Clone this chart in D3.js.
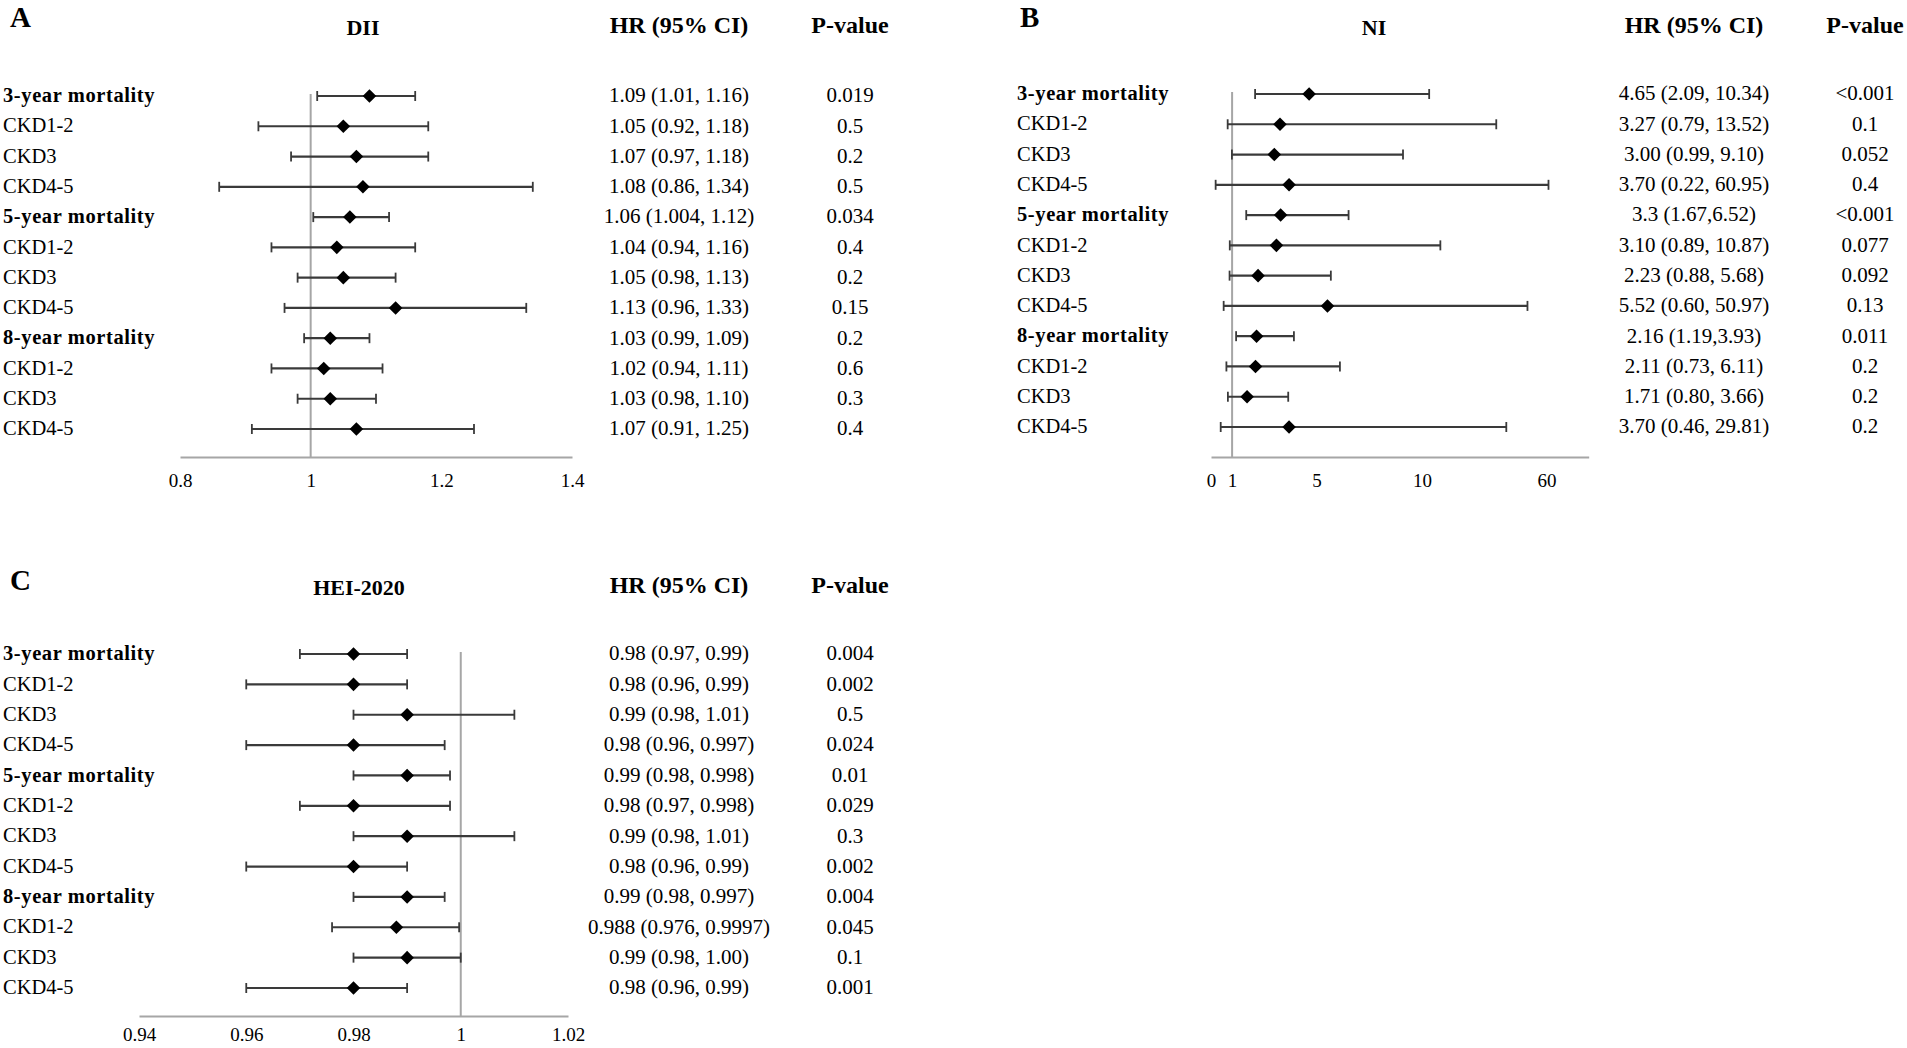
<!DOCTYPE html>
<html>
<head>
<meta charset="utf-8">
<script src="https://cdn.jsdelivr.net/npm/d3@7"></script>
<style>
  body { margin: 0; background: #fff; }
  svg { display: block; font-family: "Liberation Serif", "Times New Roman", serif; }
</style>
</head>
<body>
<svg id="forest" width="1907" height="1048"></svg>
<script>
// rows, same for all three panels
let rowLabels = ["3-year mortality", "CKD1-2", "CKD3", "CKD4-5",
                 "5-year mortality", "CKD1-2", "CKD3", "CKD4-5",
                 "8-year mortality", "CKD1-2", "CKD3", "CKD4-5"];
let boldRows = [true, false, false, false, true, false, false, false, true, false, false, false];

// A: DII
let diiHR = [1.09, 1.05, 1.07, 1.08, 1.06, 1.04, 1.05, 1.13, 1.03, 1.02, 1.03, 1.07];
let diiLo = [1.01, 0.92, 0.97, 0.86, 1.004, 0.94, 0.98, 0.96, 0.99, 0.94, 0.98, 0.91];
let diiHi = [1.16, 1.18, 1.18, 1.34, 1.12, 1.16, 1.13, 1.33, 1.09, 1.11, 1.10, 1.25];
let diiText = ["1.09 (1.01, 1.16)", "1.05 (0.92, 1.18)", "1.07 (0.97, 1.18)", "1.08 (0.86, 1.34)",
               "1.06 (1.004, 1.12)", "1.04 (0.94, 1.16)", "1.05 (0.98, 1.13)", "1.13 (0.96, 1.33)",
               "1.03 (0.99, 1.09)", "1.02 (0.94, 1.11)", "1.03 (0.98, 1.10)", "1.07 (0.91, 1.25)"];
let diiP = ["0.019", "0.5", "0.2", "0.5", "0.034", "0.4", "0.2", "0.15", "0.2", "0.6", "0.3", "0.4"];
let diiTicks = [0.8, 1, 1.2, 1.4];

// B: NI
let niHR = [4.65, 3.27, 3.00, 3.70, 3.3, 3.10, 2.23, 5.52, 2.16, 2.11, 1.71, 3.70];
let niLo = [2.09, 0.79, 0.99, 0.22, 1.67, 0.89, 0.88, 0.60, 1.19, 0.73, 0.80, 0.46];
let niHi = [10.34, 13.52, 9.10, 60.95, 6.52, 10.87, 5.68, 50.97, 3.93, 6.11, 3.66, 29.81];
let niText = ["4.65 (2.09, 10.34)", "3.27 (0.79, 13.52)", "3.00 (0.99, 9.10)", "3.70 (0.22, 60.95)",
              "3.3 (1.67,6.52)", "3.10 (0.89, 10.87)", "2.23 (0.88, 5.68)", "5.52 (0.60, 50.97)",
              "2.16 (1.19,3.93)", "2.11 (0.73, 6.11)", "1.71 (0.80, 3.66)", "3.70 (0.46, 29.81)"];
let niP = ["<0.001", "0.1", "0.052", "0.4", "<0.001", "0.077", "0.092", "0.13", "0.011", "0.2", "0.2", "0.2"];
let niTicks = [0, 1, 5, 10, 60];
// broken axis: linear up to ~14, then squeezed so 60 fits
let niBreaks = [0, 13.6, 30, 51, 61, 75];
let niBreakUnits = [0, 13.6, 14, 15, 16, 17.9];

// C: HEI-2020
let heiHR = [0.98, 0.98, 0.99, 0.98, 0.99, 0.98, 0.99, 0.98, 0.99, 0.988, 0.99, 0.98];
let heiLo = [0.97, 0.96, 0.98, 0.96, 0.98, 0.97, 0.98, 0.96, 0.98, 0.976, 0.98, 0.96];
let heiHi = [0.99, 0.99, 1.01, 0.997, 0.998, 0.998, 1.01, 0.99, 0.997, 0.9997, 1.00, 0.99];
let heiText = ["0.98 (0.97, 0.99)", "0.98 (0.96, 0.99)", "0.99 (0.98, 1.01)", "0.98 (0.96, 0.997)",
               "0.99 (0.98, 0.998)", "0.98 (0.97, 0.998)", "0.99 (0.98, 1.01)", "0.98 (0.96, 0.99)",
               "0.99 (0.98, 0.997)", "0.988 (0.976, 0.9997)", "0.99 (0.98, 1.00)", "0.98 (0.96, 0.99)"];
let heiP = ["0.004", "0.002", "0.5", "0.024", "0.01", "0.029", "0.3", "0.002", "0.004", "0.045", "0.1", "0.001"];
let heiTicks = [0.94, 0.96, 0.98, 1, 1.02];

let svg = d3.select("#forest");
let lineGray = "#a6a6a6";
let barColor = "#3a3a3a";
let diamond = d3.symbol().type(d3.symbolSquare).size(92);

function drawPanel(p) {
    let g = svg.append("g");
    let y = d3.scalePoint().domain(d3.range(rowLabels.length)).range([p.rowTop, p.rowBottom]);
    let rows = d3.range(rowLabels.length);

    // panel letter, title, column headers
    g.append("text").attr("x", p.letterX).attr("y", p.letterY).attr("dy", "0.35em")
        .attr("font-size", 29).attr("font-weight", "bold").text(p.letter);
    g.append("text").attr("x", p.titleX).attr("y", p.headY + 2).attr("dy", "0.35em")
        .attr("text-anchor", "middle").attr("font-size", 22).attr("font-weight", "bold").text(p.title);
    g.append("text").attr("x", p.hrX).attr("y", p.headY).attr("dy", "0.35em")
        .attr("text-anchor", "middle").attr("font-size", 24).attr("font-weight", "bold").text("HR (95% CI)");
    g.append("text").attr("x", p.pX).attr("y", p.headY).attr("dy", "0.35em")
        .attr("text-anchor", "middle").attr("font-size", 24).attr("font-weight", "bold").text("P-value");

    // axis
    let axis = g.append("g")
        .attr("transform", `translate(0,${p.axisY})`)
        .call(d3.axisBottom(p.x).tickValues(p.ticks).tickSize(0).tickSizeOuter(0).tickPadding(p.tickPad).tickFormat(d => d));
    axis.attr("font-family", null).attr("font-size", 19);
    axis.select(".domain").attr("stroke", lineGray).attr("stroke-width", 2);
    axis.selectAll("text").attr("fill", "#000");

    // reference line at HR = 1
    g.append("line")
        .attr("x1", p.x(1)).attr("x2", p.x(1))
        .attr("y1", p.rowTop - 2).attr("y2", p.axisY)
        .attr("stroke", lineGray).attr("stroke-width", 2);

    // CI bars
    g.append("g").selectAll("line").data(rows).join("line")
        .attr("x1", i => p.x(p.lo[i])).attr("x2", i => p.x(p.hi[i]))
        .attr("y1", i => y(i)).attr("y2", i => y(i))
        .attr("stroke", barColor).attr("stroke-width", 2.2);
    let caps = rows.flatMap(i => [{i, v: p.lo[i]}, {i, v: p.hi[i]}]);
    g.append("g").selectAll("line").data(caps).join("line")
        .attr("x1", d => p.x(d.v)).attr("x2", d => p.x(d.v))
        .attr("y1", d => y(d.i) - 5).attr("y2", d => y(d.i) + 5)
        .attr("stroke", barColor).attr("stroke-width", 1.8);

    // point estimates
    g.append("g").selectAll("path").data(rows).join("path")
        .attr("d", diamond)
        .attr("transform", i => `translate(${p.x(p.hr[i])},${y(i)}) rotate(45)`)
        .attr("fill", "#000");

    // left labels + right columns
    g.append("g").selectAll("text").data(rows).join("text")
        .attr("x", p.labelX).attr("y", i => y(i) - 1).attr("dy", "0.35em")
        .attr("font-size", 20.5)
        .attr("font-weight", i => boldRows[i] ? "bold" : null)
        .attr("letter-spacing", i => boldRows[i] ? 0.6 : null)
        .text(i => rowLabels[i]);
    g.append("g").selectAll("text").data(rows).join("text")
        .attr("x", p.hrX).attr("y", i => y(i) - 1).attr("dy", "0.35em")
        .attr("text-anchor", "middle").attr("font-size", 21)
        .text(i => p.text[i]);
    g.append("g").selectAll("text").data(rows).join("text")
        .attr("x", p.pX).attr("y", i => y(i) - 1).attr("dy", "0.35em")
        .attr("text-anchor", "middle").attr("font-size", 21)
        .text(i => p.pv[i]);
}

drawPanel({
    letter: "A", letterX: 10, letterY: 17, title: "DII", titleX: 363, headY: 25,
    hrX: 679, pX: 850, labelX: 3, rowTop: 96, rowBottom: 429, axisY: 457, tickPad: 17,
    x: d3.scaleLinear().domain([0.8, 1.4]).range([180, 572]), ticks: diiTicks,
    hr: diiHR, lo: diiLo, hi: diiHi, text: diiText, pv: diiP
});

drawPanel({
    letter: "B", letterX: 1020, letterY: 17, title: "NI", titleX: 1374, headY: 25,
    hrX: 1694, pX: 1865, labelX: 1017, rowTop: 94, rowBottom: 427, axisY: 457, tickPad: 17,
    x: d3.scaleLinear().domain(niBreaks).range(niBreakUnits.map(u => 1211 + u * 21.1)), ticks: niTicks,
    hr: niHR, lo: niLo, hi: niHi, text: niText, pv: niP
});

drawPanel({
    letter: "C", letterX: 10, letterY: 580, title: "HEI-2020", titleX: 359, headY: 585,
    hrX: 679, pX: 850, labelX: 3, rowTop: 654, rowBottom: 988, axisY: 1016, tickPad: 12,
    x: d3.scaleLinear().domain([0.94, 1.02]).range([139, 568]), ticks: heiTicks,
    hr: heiHR, lo: heiLo, hi: heiHi, text: heiText, pv: heiP
});
</script>
</body>
</html>
